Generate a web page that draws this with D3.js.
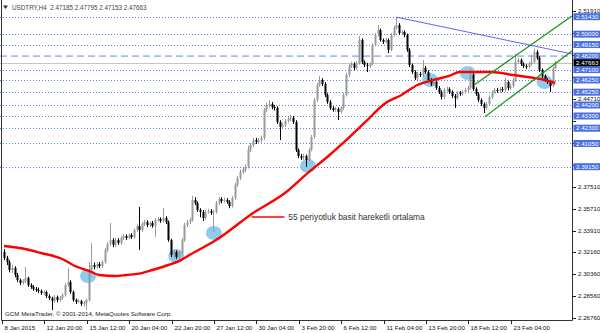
<!DOCTYPE html>
<html>
<head>
<meta charset="utf-8">
<script src="https://cdn.jsdelivr.net/npm/d3@7"></script>
<style>
body{margin:0;background:#fff;}
svg{display:block;font-family:"Liberation Sans",Arial,sans-serif;}
</style>
</head>
<body>
<div id="chart"></div>
<script>
// USDTRY H4 candles, 8 Jan - 25 Feb 2015 (open = previous close)
const firstOpen = 2.3216;
const closes = [
2.3167,2.3134,2.3069,2.3085,2.3028,2.2987,2.2962,2.2979,2.3003,2.2946,
2.2929,2.2913,2.2905,2.2897,2.2880,2.2889,2.2856,2.2839,2.2815,2.2848,
2.2823,2.2839,2.2864,2.2946,2.2970,2.2889,2.2823,2.2807,2.2815,2.2790,
2.2798,2.2823,2.3069,2.3110,2.3093,2.3118,2.3101,2.3134,2.3232,2.3282,
2.3314,2.3273,2.3314,2.3290,2.3331,2.3347,2.3331,2.3355,2.3339,2.3396,
2.3429,2.3396,2.3445,2.3462,2.3437,2.3454,2.3429,2.3478,2.3486,2.3470,
2.3495,2.3462,2.3314,2.3192,2.3216,2.3175,2.3208,2.3314,2.3437,2.3462,
2.3478,2.3642,2.3617,2.3560,2.3544,2.3495,2.3544,2.3552,2.3536,2.3544,
2.3617,2.3650,2.3634,2.3642,2.3626,2.3593,2.3658,2.3765,2.3822,2.3871,
2.3888,2.3912,2.4052,2.4092,2.4133,2.4117,2.4133,2.4150,2.4379,2.4420,
2.4428,2.4404,2.4396,2.4281,2.4240,2.4256,2.4289,2.4305,2.4314,2.4281,
2.4052,2.4002,2.3986,2.4002,2.3970,2.4052,2.4158,2.4461,2.4584,2.4625,
2.4592,2.4502,2.4445,2.4396,2.4379,2.4387,2.4363,2.4396,2.4502,2.4666,
2.4739,2.4756,2.4723,2.4764,2.4952,2.4772,2.4748,2.4739,2.4756,2.4911,
2.4993,2.5034,2.4952,2.4936,2.4952,2.4871,2.4993,2.5051,2.5075,2.5010,
2.5018,2.4993,2.4871,2.4748,2.4690,2.4641,2.4674,2.4666,2.4723,2.4690,
2.4625,2.4592,2.4608,2.4559,2.4527,2.4486,2.4543,2.4551,2.4527,2.4494,
2.4477,2.4518,2.4510,2.4527,2.4543,2.4559,2.4666,2.4551,2.4510,2.4461,
2.4428,2.4396,2.4428,2.4486,2.4527,2.4543,2.4535,2.4551,2.4543,2.4608,
2.4559,2.4576,2.4625,2.4772,2.4789,2.4756,2.4739,2.4731,2.4756,2.4772,
2.4854,2.4805,2.4707,2.4658,2.4625,2.4608,2.4576,2.47185,2.47663];
const highs = [
2.3240,2.3185,2.3150,2.3110,2.3100,2.3045,2.3000,2.2995,2.3093,2.3015,
2.2960,2.2945,2.2930,2.2925,2.2910,2.2905,2.2900,2.2870,2.2850,2.2865,
2.2860,2.2855,2.2880,2.2960,2.3085,2.2985,2.2900,2.2835,2.2830,2.2825,
2.2815,2.2835,2.3135,2.3290,2.3130,2.3135,2.3135,2.3150,2.3250,2.3300,
2.3454,2.3330,2.3330,2.3330,2.3345,2.3365,2.3360,2.3370,2.3370,2.3410,
2.3445,2.3585,2.3460,2.3480,2.3475,2.3470,2.3470,2.3495,2.3505,2.3500,
2.3577,2.3510,2.3475,2.3325,2.3235,2.3230,2.3225,2.3330,2.3455,2.3480,
2.3495,2.3675,2.3665,2.3630,2.3575,2.3560,2.3560,2.3570,2.3568,2.3560,
2.3635,2.3668,2.3665,2.3660,2.3658,2.3640,2.3675,2.3780,2.3840,2.3890,
2.3905,2.3935,2.4085,2.4110,2.4150,2.4150,2.4150,2.4170,2.4395,2.4440,
2.4461,2.4445,2.4420,2.4410,2.4295,2.4275,2.4305,2.4325,2.4340,2.4330,
2.4295,2.4065,2.4020,2.4020,2.4015,2.4070,2.4175,2.4480,2.4600,2.4658,
2.4640,2.4608,2.4515,2.4460,2.4410,2.4405,2.4400,2.4410,2.4520,2.4685,
2.4755,2.4775,2.4770,2.4780,2.4985,2.4965,2.4785,2.4765,2.4770,2.4925,
2.5010,2.5075,2.5045,2.4965,2.4970,2.4965,2.5010,2.5070,2.5140,2.5090,
2.5035,2.5030,2.5005,2.4885,2.4760,2.4705,2.4690,2.4690,2.4789,2.4740,
2.4705,2.4640,2.4625,2.4620,2.4575,2.4540,2.4560,2.4570,2.4565,2.4540,
2.4510,2.4535,2.4535,2.4545,2.4560,2.4575,2.4723,2.4680,2.4565,2.4525,
2.4475,2.4440,2.4445,2.4500,2.4540,2.4560,2.4560,2.4568,2.4568,2.4640,
2.4620,2.4595,2.4640,2.4840,2.4805,2.4800,2.4770,2.4755,2.4772,2.4830,
2.4880,2.4868,2.4820,2.4720,2.4672,2.4640,2.4620,2.4735,2.47795];
const lows = [
2.3150,2.3110,2.3050,2.3045,2.3010,2.2970,2.2945,2.2950,2.2965,2.2930,
2.2915,2.2900,2.2890,2.2880,2.2865,2.2865,2.2840,2.2825,2.2741,2.2800,
2.2805,2.2810,2.2825,2.2850,2.2930,2.2875,2.2810,2.2790,2.2795,2.2775,
2.2770,2.2745,2.2810,2.3050,2.3075,2.3080,2.3085,2.3085,2.3120,2.3215,
2.3265,2.3255,2.3260,2.3275,2.3275,2.3315,2.3315,2.3320,2.3325,2.3325,
2.3380,2.3232,2.3380,2.3430,2.3420,2.3420,2.3415,2.3339,2.3465,2.3455,
2.3455,2.3445,2.3300,2.3175,2.3167,2.3160,2.3160,2.3195,2.3300,2.3420,
2.3445,2.3465,2.3600,2.3545,2.3500,2.3470,2.3480,2.3530,2.3520,2.3380,
2.3530,2.3600,2.3615,2.3620,2.3610,2.3575,2.3580,2.3645,2.3750,2.3805,
2.3855,2.3870,2.3900,2.4035,2.4075,2.4100,2.4100,2.4115,2.4135,2.4360,
2.4400,2.4385,2.4375,2.4265,2.4133,2.4225,2.4240,2.4275,2.4290,2.4265,
2.4035,2.3985,2.3970,2.3970,2.3912,2.3955,2.4040,2.4145,2.4445,2.4570,
2.4575,2.4485,2.4430,2.4380,2.4365,2.4365,2.4297,2.4350,2.4380,2.4490,
2.4650,2.4725,2.4705,2.4710,2.4750,2.4755,2.4730,2.4690,2.4725,2.4745,
2.4900,2.4980,2.4940,2.4920,2.4925,2.4845,2.4860,2.4980,2.5040,2.4995,
2.4995,2.4975,2.4855,2.4730,2.4675,2.4625,2.4625,2.4650,2.4650,2.4675,
2.4610,2.4575,2.4578,2.4545,2.4510,2.4465,2.4470,2.4530,2.4510,2.4478,
2.4396,2.4462,2.4495,2.4495,2.4512,2.4528,2.4545,2.4535,2.4495,2.4445,
2.4412,2.4355,2.4380,2.4415,2.4470,2.4512,2.4520,2.4520,2.4528,2.4530,
2.4540,2.4545,2.4560,2.4610,2.4760,2.4740,2.4722,2.4715,2.4718,2.4742,
2.4760,2.4790,2.4690,2.4640,2.4610,2.4592,2.4527,2.4565,2.47153];

// 55 period SMA read at some bars
const maIndex  = [0,8,14,22,26,32,36,42,46,52,56,62,66,70,80,94,106,115,122,128,136,144,150,156,162,168,172,184,192,200,204,208];
const maValues = [2.3265,2.3241,2.3208,2.3159,2.3110,2.3061,2.3028,2.3020,2.3028,2.3044,2.3069,2.3110,2.3142,2.3192,2.3314,2.3536,2.3699,2.3871,2.3994,2.4109,2.4273,2.4436,2.4502,2.4584,2.4625,2.4658,2.4690,2.4690,2.4666,2.4641,2.4625,2.4600];

// horizontal levels
const levels = [2.51430,2.50000,2.49150,2.47100,2.46250,2.45250,2.44200,2.43300,2.42300,2.41050,2.39150];
const dashedLevel = 2.48200;
const lastPrice = 2.47663;
const priceTicks = [2.26760,2.28560,2.30360,2.32160,2.33910,2.35710,2.37510,2.39310,2.41110,2.42910,2.44710,2.46510,2.48310,2.50110,2.51910];

// time axis
const timeIndex  = [0,16,32,48,64,80,96,112,128,144,160,176,192];
const timeLabels = ["8 Jan 2015","12 Jan 20:00","15 Jan 12:00","20 Jan 04:00","22 Jan 20:00","27 Jan 12:00","30 Jan 04:00","3 Feb 20:00","6 Feb 12:00","11 Feb 04:00","13 Feb 20:00","18 Feb 12:00","23 Feb 04:00"];

// touches of the average (circles)
const touchIndex  = [31.7,65,79.2,114.7,160.8,175,204];
const touchPrices = [2.3020,2.3183,2.3372,2.3920,2.4625,2.4682,2.4608];

// trend lines [i1,p1,i2,p2]
const blueLine   = [148,2.5140,214.3,2.4838];
const greenUpper = [177.4,2.4584,214.3,2.5149];
const greenLower = [181.5,2.4324,214.3,2.4862];

const title = "USDTRY,H4  2.47185 2.47795 2.47153 2.47663";
const note = "55 periyotluk basit hareketli ortalama";
const copyright = "GCM MetaTrader, \u00a9 2001-2014, MetaQuotes Software Corp.";

const W = 600, H = 333, plotW = 572, plotH = 320;

const svg = d3.select("#chart")
	.append("svg")
	.attr("width", W)
	.attr("height", H);

//scales
const x = d3.scaleLinear().domain([0,208]).range([4,555.2]);
const y = d3.scaleLinear().domain([2.5143,2.2676]).range([16.7,318]);

svg.append("clipPath").attr("id","plot")
	.append("rect").attr("width",plotW).attr("height",plotH);

const plot = svg.append("g").attr("clip-path","url(#plot)");

//levels
plot.selectAll(".lvl")
	.data(levels)
	.enter()
	.append("line")
	.attr("x1",0).attr("x2",plotW)
	.attr("y1",d=>Math.round(y(d))+0.5).attr("y2",d=>Math.round(y(d))+0.5)
	.attr("stroke","#5f7fe0")
	.attr("stroke-dasharray","1,2");

plot.append("line")
	.attr("x1",0).attr("x2",plotW)
	.attr("y1",y(dashedLevel)).attr("y2",y(dashedLevel))
	.attr("stroke","#a9bcec")
	.attr("stroke-width",1.6)
	.attr("stroke-dasharray","7,4");

plot.append("line")
	.attr("x1",0).attr("x2",plotW)
	.attr("y1",Math.round(y(lastPrice))+0.5).attr("y2",Math.round(y(lastPrice))+0.5)
	.attr("stroke","#c4c4c4");

//circles
plot.selectAll(".touch")
	.data(touchIndex)
	.enter()
	.append("ellipse")
	.attr("cx",d=>x(d))
	.attr("cy",(d,i)=>y(touchPrices[i]))
	.attr("rx",8).attr("ry",7)
	.attr("fill","#8ccdee");

//candles
const candles = closes.map((c,i)=>({i:i, o: i ? closes[i-1] : firstOpen, h: highs[i], l: lows[i], c: c}));
const bar = plot.selectAll(".candle")
	.data(candles)
	.enter()
	.append("g");
bar.append("line")
	.attr("x1",d=>Math.round(x(d.i))+0.5).attr("x2",d=>Math.round(x(d.i))+0.5)
	.attr("y1",d=>y(d.h)).attr("y2",d=>y(d.l))
	.attr("stroke",d=>d.c>=d.o ? "#9a9a9a" : "#000");
bar.append("rect")
	.attr("x",d=>Math.round(x(d.i))-0.5)
	.attr("width",2)
	.attr("y",d=>y(Math.max(d.o,d.c)))
	.attr("height",d=>Math.max(1,y(Math.min(d.o,d.c))-y(Math.max(d.o,d.c))))
	.attr("fill",d=>d.c>=d.o ? "#9a9a9a" : "#000");

//moving average
plot.append("path")
	.datum(maIndex)
	.attr("d",d3.line().x(d=>x(d)).y((d,i)=>y(maValues[i])).curve(d3.curveMonotoneX))
	.attr("fill","none")
	.attr("stroke","#ff0000")
	.attr("stroke-width",2.4);

//trend lines
[[blueLine,"#3a3aff",0.8],[greenUpper,"#1a9a1a",1.3],[greenLower,"#1a9a1a",1.3]].forEach(function(t){
	plot.append("line")
	.attr("x1",x(t[0][0])).attr("y1",y(t[0][1]))
	.attr("x2",x(t[0][2])).attr("y2",y(t[0][3]))
	.attr("stroke",t[1])
	.attr("stroke-width",t[2]);
});

//annotation
plot.append("line")
	.attr("x1",x(93.4)).attr("x2",x(105.8))
	.attr("y1",y(2.3503)).attr("y2",y(2.3503))
	.attr("stroke","#ff0000")
	.attr("stroke-width",1.4);
plot.append("text")
	.attr("x",x(107.3)).attr("y",y(2.3503)+3)
	.attr("font-size","8.4px")
	.attr("fill","#333")
	.text(note);

//title
svg.append("path").attr("d","M3,5.5 L8,5.5 L5.5,9 Z").attr("fill","#333");
svg.append("text").attr("x",12).attr("y",9.5)
	.attr("font-size","6.3px").attr("fill","#444")
	.attr("xml:space","preserve")
	.text(title);

svg.append("text").attr("x",5).attr("y",316)
	.attr("font-size","6.2px").attr("fill","#222")
	.text(copyright);

//frame
svg.append("path")
	.attr("d",`M1.5,0 V${plotH+0.5} H${plotW+0.5} V0`)
	.attr("fill","none")
	.attr("stroke","#333");

//price axis
const boxes = levels.concat([dashedLevel, lastPrice]);
// a scale label that sits under a level box is hidden by it
const freeTicks = priceTicks.filter(p => d3.min(boxes, b => Math.abs(y(b)-y(p))) > 5.5);
const pa = svg.append("g");
pa.selectAll(".tk")
	.data(priceTicks)
	.enter()
	.append("line")
	.attr("x1",plotW).attr("x2",plotW+4)
	.attr("y1",d=>Math.round(y(d))+0.5).attr("y2",d=>Math.round(y(d))+0.5)
	.attr("stroke","#222");
pa.selectAll(".tl")
	.data(freeTicks)
	.enter()
	.append("text")
	.attr("x",plotW+6).attr("y",d=>y(d)+2.2)
	.attr("font-size","6.2px").attr("fill","#111")
	.text(d=>d.toFixed(5));

pa.selectAll(".bx")
	.data(boxes)
	.enter()
	.append("rect")
	.attr("x",plotW+1.5).attr("width",30)
	.attr("y",d=>y(d)-3.5).attr("height",7)
	.attr("fill",d=>d===lastPrice ? "#000" : "#4a6fe0");
pa.selectAll(".bt")
	.data(boxes)
	.enter()
	.append("text")
	.attr("x",plotW+4).attr("y",d=>y(d)+2.2)
	.attr("font-size","6.2px").attr("fill","#fff")
	.text(d=>d.toFixed(5));

//time axis
const ta = svg.append("g");
ta.selectAll(".tt")
	.data(timeIndex)
	.enter()
	.append("line")
	.attr("x1",d=>Math.round(x(d))-1.5).attr("x2",d=>Math.round(x(d))-1.5)
	.attr("y1",plotH).attr("y2",plotH+4)
	.attr("stroke","#222");
ta.selectAll(".tx")
	.data(timeIndex)
	.enter()
	.append("text")
	.attr("x",d=>Math.round(x(d))+0.5).attr("y",plotH+9.5)
	.attr("font-size","6.2px").attr("fill","#111")
	.text((d,i)=>timeLabels[i]);
</script>
</body>
</html>
